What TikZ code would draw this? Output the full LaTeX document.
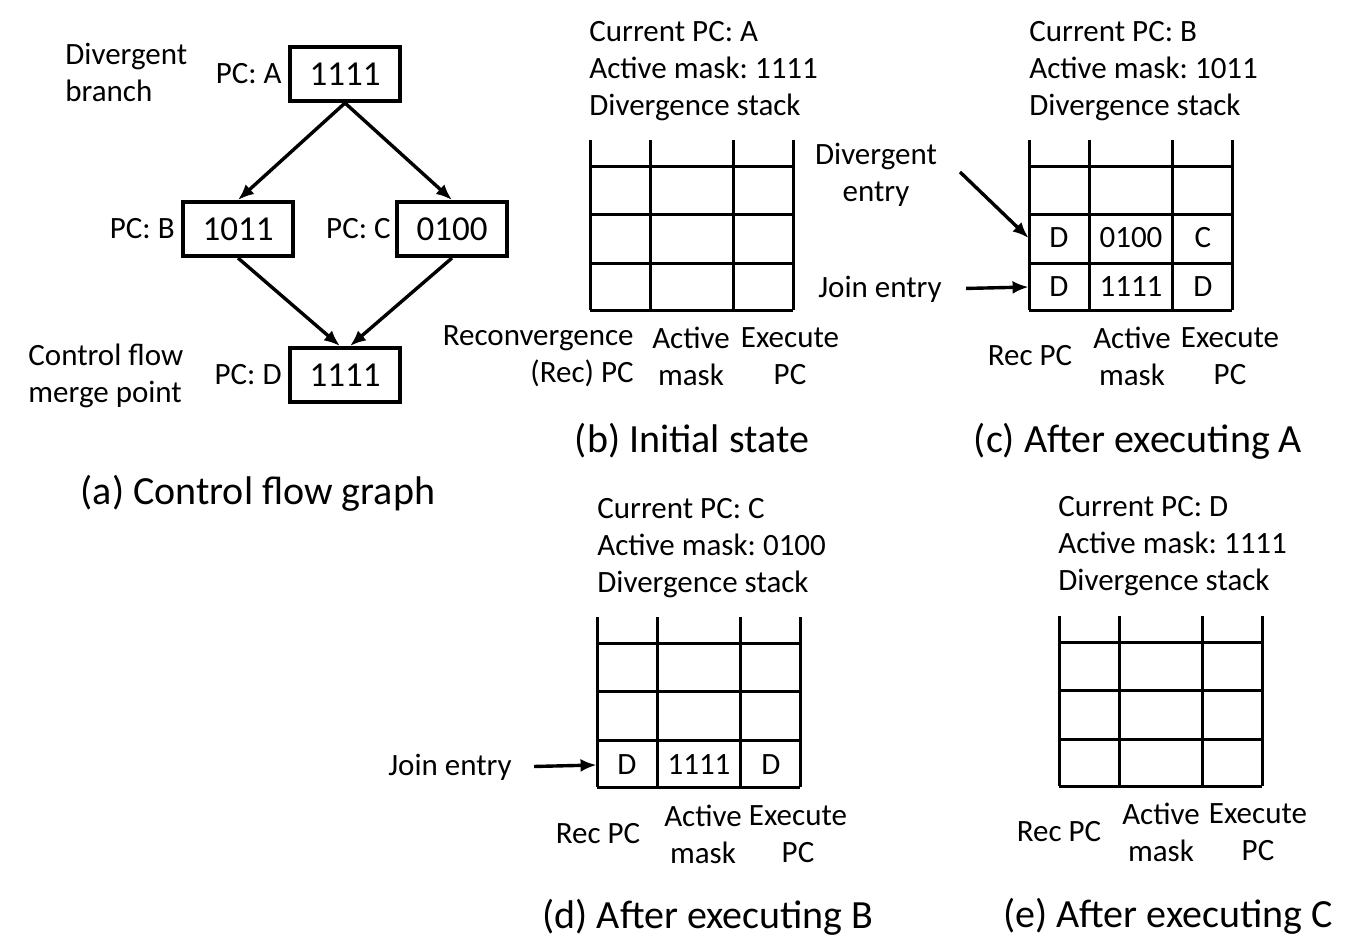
\documentclass[tikz,border=0pt]{standalone}
\usepackage{fontspec}
\setmainfont{Carlito}
\usetikzlibrary{positioning,arrows.meta}
\frenchspacing

\tikzset{
    txt/.style={font=\fontsize{15.5}{18.5}\selectfont, inner sep=0pt},
    caption/.style={font=\fontsize{20}{24}\selectfont, inner sep=0pt},
    pcbox/.style={draw, line width=2pt, minimum width=55pt, minimum height=27pt, inner sep=0pt, font=\fontsize{17.5}{20}\selectfont},
    flow/.style={black, -{Latex[length=8pt,width=6.5pt]}, line width=1.7pt},
    stackline/.style={line width=1.5pt},
    cell/.style={txt, minimum width=30pt, minimum height=23pt}
}

\begin{document}
\begin{tikzpicture}[x=0.5pt,y=-0.5pt]
        \useasboundingbox (0,0) rectangle (1362,948);

        % (a) control flow graph
        \node[pcbox] (A) at (345,74) {1111};
        \node[pcbox] (B) at (238,229) {1011};
        \node[pcbox] (C) at (452,229) {0100};
        \node[pcbox] (D) at (345,375) {1111};

        \node[txt, left=3pt of A] (pcA) {PC: A};
        \node[txt, left=3pt of B] (pcB) {PC: B};
        \node[txt, left=2pt of C] (pcC) {PC: C};
        \node[txt, left=3pt of D] (pcD) {PC: D};

        \node[txt, align=left, anchor=west] (branch) at (65,72) {Divergent\\branch};
        \node[txt, align=left, anchor=west] (merge) at (28,376) {Control flow\\merge point};

        \draw[flow] (A.south) -- (B.north);
        \draw[flow] (A.south) -- (C.north);
        \draw[flow] (B.south) -- ([xshift=-2.5pt]D.north);
        \draw[flow] (C.south) -- ([xshift=2.5pt]D.north);

        \node[caption] (capA) at (258,493) {(a) Control flow graph};

        % Draw stacks
        \foreach \tab/\tx/\ty in {b/590/140, c/1029/140, d/597/617, e/1059/616} {
            \foreach \dx in {0,60,143,203}
                \draw[stackline] (\tx+\dx,\ty) -- (\tx+\dx,\ty+170);
            \foreach \dy in {26,74,123,170}
                \draw[stackline] (\tx,\ty+\dy) -- (\tx+203,\ty+\dy);
        }

        % (b) initial state
        \node[txt, align=left, anchor=west] (b-state) at (589,71) {Current PC: A\\Active mask: 1111\\Divergence stack};
        \node[txt, align=right, anchor=east] (b-rec) at (634,356) {Reconvergence\\(Rec) PC};
        \node[txt, align=center] (b-act) at (691,356) {Active\\mask};
        \node[txt, align=center] (b-exe) at (790,356) {Execute\\PC};
        \node[caption] (capB) at (692,441) {(b) Initial state};

        % (c) after executing A
        \node[txt, align=left, anchor=west] (c-state) at (1029,71) {Current PC: B\\Active mask: 1011\\Divergence stack};
        \node[cell] (c31) at (1059,238) {D};
        \node[cell] (c32) at (1131,238) {0100};
        \node[cell] (c33) at (1203,238) {C};
        \node[cell] (c41) at (1059,287) {D};
        \node[cell] (c42) at (1131,287) {1111};
        \node[cell] (c43) at (1203,287) {D};
        \node[txt, align=center] (c-divtxt) at (876,175) {Divergent\\entry};
        \node[txt] (c-jointxt) at (880,289) {Join entry};
        \coordinate (c-divstart) at (960,172);
        \draw[flow] (c-divstart) -- (c31.west);
        \draw[flow, shorten <=12pt] (c-jointxt.east) -- (c41.west);
        \node[txt] (c-rec) at (1030,356) {Rec PC};
        \node[txt, align=center] (c-act) at (1132,356) {Active\\mask};
        \node[txt, align=center] (c-exe) at (1230,356) {Execute\\PC};
        \node[caption] (capC) at (1138,441) {(c) After executing A};

        % (d) after executing B
        \node[txt, align=left, anchor=west] (d-state) at (597,548) {Current PC: C\\Active mask: 0100\\Divergence stack};
        \node[cell] (d41) at (627,765) {D};
        \node[cell] (d42) at (699,765) {1111};
        \node[cell] (d43) at (771,765) {D};
        \node[txt] (d-jointxt) at (450,767) {Join entry};
        \draw[flow, shorten <=11pt] (d-jointxt.east) -- (d41.west);
        \node[txt] (d-rec) at (598,834) {Rec PC};
        \node[txt, align=center] (d-act) at (703,834) {Active\\mask};
        \node[txt, align=center] (d-exe) at (798,834) {Execute\\PC};
        \node[caption] (capD) at (708,917) {(d) After executing B};

        % (e) after executing C
        \node[txt, align=left, anchor=west] (e-state) at (1058,546) {Current PC: D\\Active mask: 1111\\Divergence stack};
        \node[txt] (e-rec) at (1059,832) {Rec PC};
        \node[txt, align=center] (e-act) at (1161,832) {Active\\mask};
        \node[txt, align=center] (e-exe) at (1258,832) {Execute\\PC};
        \node[caption] (capE) at (1168,916) {(e) After executing C};

    \end{tikzpicture}
\end{document}
